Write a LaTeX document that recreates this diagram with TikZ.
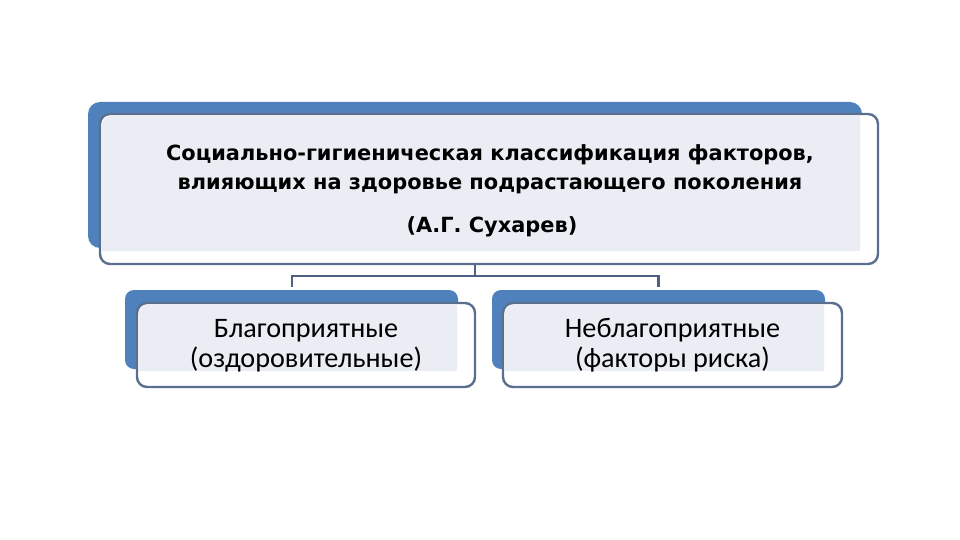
\documentclass[tikz,border=0pt]{standalone}
\usepackage{fontspec}
\setmainfont{DejaVu Sans}
\newfontfamily\headfont{DejaVu Sans}
\newfontfamily\bodyfont{Carlito}
\definecolor{backblue}{HTML}{4F81BD}
\definecolor{lightfill}{HTML}{EAEEF4}
\definecolor{edge}{HTML}{5A6F8E}
\definecolor{wire}{HTML}{4E6180}
\tikzset{
  backbox/.style={fill=backblue, rounded corners=11pt},
  frontbox/.style={draw=edge, line width=2.4pt, rounded corners=10pt, rectangle, inner sep=0pt},
  headtext/.style={font=\headfont\bfseries\fontsize{20.9}{30}\selectfont, align=center, text=black},
  bodytext/.style={font=\bodyfont\fontsize{28.2}{30}\selectfont, align=center, text=black},
  wireline/.style={draw=wire, line width=2.2pt}
}
\begin{document}
\begin{tikzpicture}[x=1pt,y=-1pt]
\useasboundingbox (0,0) rectangle (960,540);
% ---- top box ----
\fill[backblue, rounded corners=12pt] (88,102) rectangle (862,248);
\fill[white, rounded corners=10pt] (100,114) rectangle (878,264);
\begin{scope}
  \clip (88,102) rectangle (860,250);
  \fill[lightfill, rounded corners=9pt] (102,116) rectangle (876,262);
\end{scope}
\node[frontbox, minimum width=778pt, minimum height=150pt] (top) at (489,189) {};
\node[headtext] (t1) at (490,155) {Социально-гигиеническая классификация факторов,};
\node[headtext] (t2) at (490,186) {влияющих на здоровье подрастающего поколения};
\node[headtext] (t3) at (492,227) {(А.Г. Сухарев)};
% ---- left box ----
\fill[backblue, rounded corners=9pt] (125,290) rectangle (458,369);
\fill[white, rounded corners=9pt] (137,303) rectangle (475,387);
\begin{scope}
  \clip (125,290) rectangle (457,370);
  \fill[lightfill, rounded corners=8pt] (139,305) rectangle (473,385);
\end{scope}
\node[frontbox, minimum width=338pt, minimum height=84pt] (left) at (306,345) {};
\node[bodytext] (ltext) at (306,345.5) {Благоприятные\\(оздоровительные)};
% ---- right box ----
\fill[backblue, rounded corners=9pt] (492,290) rectangle (825,369);
\fill[white, rounded corners=9pt] (503,303) rectangle (842,387);
\begin{scope}
  \clip (492,290) rectangle (824,370);
  \fill[lightfill, rounded corners=8pt] (505,305) rectangle (840,385);
\end{scope}
\node[frontbox, minimum width=339pt, minimum height=84pt] (right) at (672.5,345) {};
\node[bodytext] (rtext) at (672.5,345.5) {Неблагоприятные\\(факторы риска)};
% ---- connectors ----
\coordinate (hub) at (475,276);
\draw[wireline] (top.south -| hub) -- (hub);
\draw[wireline] (292,287) |- (hub) -| (658.5,287);
\end{tikzpicture}
\end{document}
